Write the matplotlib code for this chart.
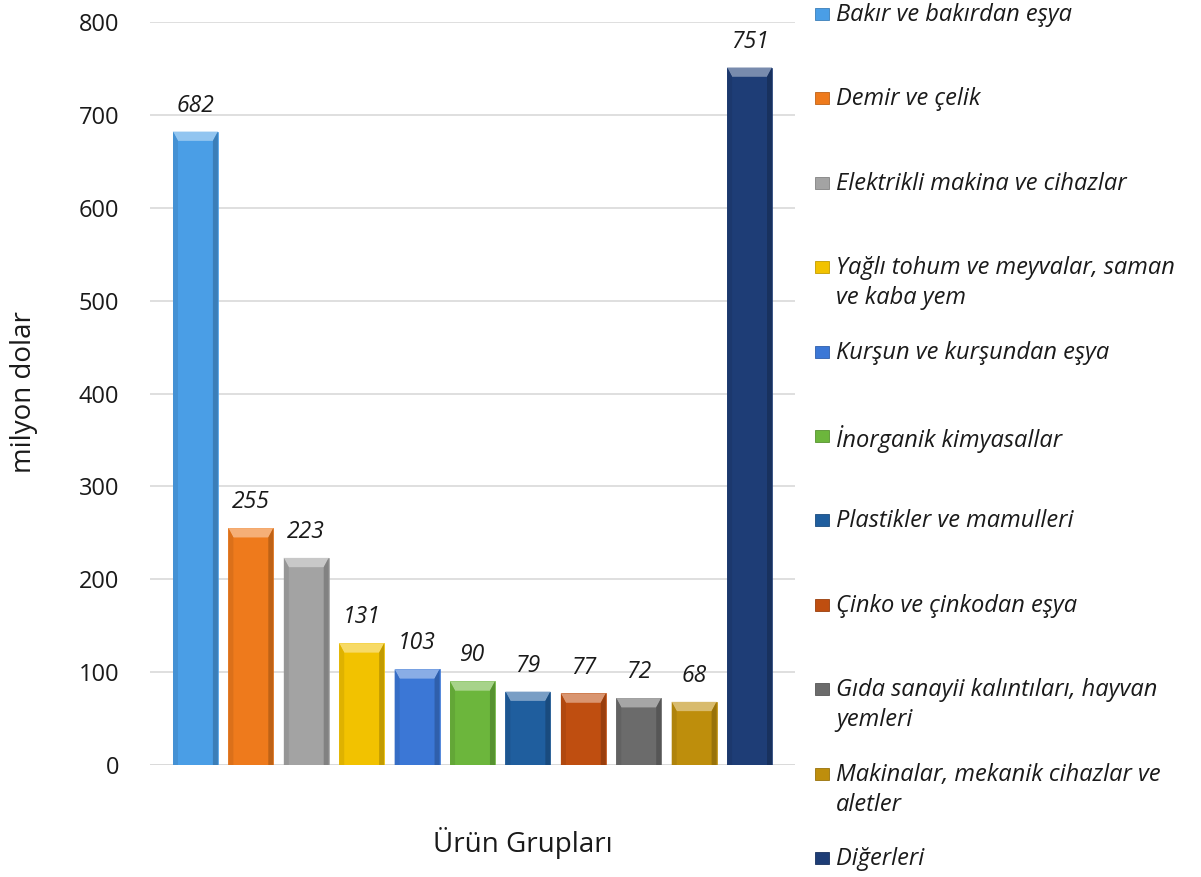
import matplotlib
matplotlib.use("Agg")
import matplotlib.pyplot as plt
from matplotlib.patches import Polygon, Rectangle
import matplotlib.colors as mcolors
import numpy as np

categories = [
    "Bakır ve bakırdan eşya",
    "Demir ve çelik",
    "Elektrikli makina ve cihazlar",
    "Yağlı tohum ve meyvalar, saman\nve kaba yem",
    "Kurşun ve kurşundan eşya",
    "İnorganik kimyasallar",
    "Plastikler ve mamulleri",
    "Çinko ve çinkodan eşya",
    "Gıda sanayii kalıntıları, hayvan\nyemleri",
    "Makinalar, mekanik cihazlar ve\naletler",
    "Diğerleri",
]
values = [682, 255, 223, 131, 103, 90, 79, 77, 72, 68, 751]
colors = ["#4A9EE6", "#EE7A1C", "#A3A3A3", "#F2C200", "#3B77D6", "#6CB63C",
          "#1F5E9E", "#BF4E10", "#6B6B6B", "#BE8E0C", "#1E3D76"]
yticks = [0, 100, 200, 300, 400, 500, 600, 700, 800]
ylabel = "milyon dolar"
xlabel = "Ürün Grupları"

font = "Open Sans"
plt.rcParams['font.family'] = [font, 'DejaVu Sans']

fig = plt.figure(figsize=(12.01, 8.77), dpi=100)
W, H = 1201, 877
ax = fig.add_axes([150 / W, 1 - 765 / H, (795 - 150) / W, (765 - 22) / H])

x = np.arange(len(values))
bw = 0.81
ax.bar(x, values, width=bw, color=colors, edgecolor=[mcolors.to_rgb(c) for c in colors],
       linewidth=0.5, zorder=3)

# bevel effect
bev_h = 10.0
bev_w = 0.09
for xi, v, c in zip(x, values, colors):
    rgb = np.array(mcolors.to_rgb(c))
    light = rgb + (1 - rgb) * 0.4
    dark = rgb * 0.8
    l, r = xi - bw / 2, xi + bw / 2
    ax.add_patch(Polygon([[l, v], [r, v], [r - bev_w, v - bev_h], [l + bev_w, v - bev_h]],
                         closed=True, facecolor=light, edgecolor='none', zorder=4))
    ax.add_patch(Polygon([[l, 0], [l, v], [l + bev_w, v - bev_h], [l + bev_w, 0]],
                         closed=True, facecolor=rgb * 0.92, edgecolor='none', zorder=4))
    ax.add_patch(Polygon([[r, 0], [r, v], [r - bev_w, v - bev_h], [r - bev_w, 0]],
                         closed=True, facecolor=dark, edgecolor='none', zorder=4))
    ax.text(xi, v + 15, str(v), ha='center', va='bottom', fontsize=16.5, style='italic',
            color='#1a1a1a', zorder=5)

ax.set_xlim(-0.82, len(values) - 1 + 0.82)
ax.set_ylim(0, 800)
ax.set_yticks(yticks)
ax.set_yticklabels([str(t) for t in yticks], fontsize=17, color='#1a1a1a')
ax.set_xticks([])
ax.yaxis.grid(True, color='#D9D9D9', linewidth=1.2, zorder=0)
ax.set_axisbelow(True)
for s in ax.spines.values():
    s.set_visible(False)
ax.tick_params(axis='y', length=0, pad=22)
ax.axhline(0, color='#D9D9D9', linewidth=1.2, zorder=1)

fig.text(24 / W, 1 - 392 / H, ylabel, rotation=90, ha='center', va='center',
         fontsize=20, color='#1a1a1a')
fig.text(523 / W, 1 - 843 / H, xlabel, ha='center', va='center', fontsize=20,
         color='#1a1a1a')

# legend
y0 = 14
step = 84.4
for i, (cat, c) in enumerate(zip(categories, colors)):
    yc = y0 + i * step
    sw, sh = 14, 12
    fig.patches.append(Rectangle(((822 - sw / 2) / W, 1 - (yc + sh / 2) / H), sw / W, sh / H,
                                 transform=fig.transFigure, facecolor=c,
                                 edgecolor=tuple(np.array(mcolors.to_rgb(c)) * 0.8),
                                 linewidth=0.6))
    fig.text(836 / W, 1 - (yc - 11) / H, cat, ha='left', va='top', fontsize=17,
             style='italic', color='#1a1a1a', linespacing=1.33)

fig.savefig("out.png", dpi=100)
